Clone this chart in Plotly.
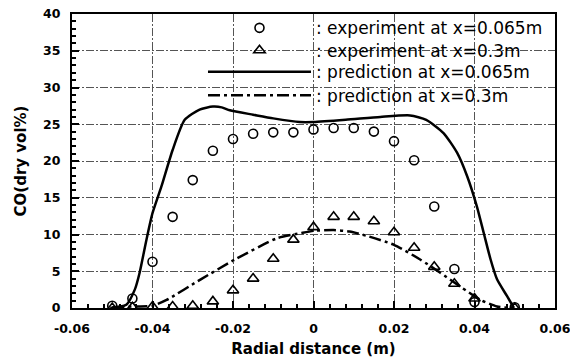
import plotly.graph_objects as go

# ---------------- data ----------------
exp_065_x = [-0.05, -0.045, -0.04, -0.035, -0.03, -0.025, -0.02, -0.015, -0.01, -0.005,
             0.0, 0.005, 0.01, 0.015, 0.02, 0.025, 0.03, 0.035, 0.04, 0.05]
exp_065_y = [0.3, 1.3, 6.3, 12.4, 17.4, 21.4, 23.0, 23.7, 23.9, 23.9,
             24.3, 24.5, 24.5, 24.0, 22.7, 20.1, 13.8, 5.3, 0.8, 0.1]

exp_03_x = [-0.05, -0.045, -0.04, -0.035, -0.03, -0.025, -0.02, -0.015, -0.01, -0.005,
            0.0, 0.005, 0.01, 0.015, 0.02, 0.025, 0.03, 0.035, 0.04, 0.05]
exp_03_y = [0.0, 0.1, 0.2, 0.2, 0.3, 0.9, 2.4, 4.0, 6.7, 9.3,
            11.0, 12.4, 12.4, 11.8, 10.3, 8.2, 5.6, 3.3, 1.3, 0.0]

pred_065_x = [-0.0505, -0.0465, -0.0444, -0.0432, -0.0415, -0.0400, -0.0378, -0.0350,
              -0.0320, -0.0283, -0.0250, -0.0228, -0.0208, -0.0150, -0.0100, -0.0034,
              0.0000, 0.0080, 0.0166, 0.0240, 0.0280, 0.0323, 0.0357, 0.0382, 0.0406,
              0.0423, 0.0440, 0.0456, 0.0481, 0.0498]
pred_065_y = [0.0, 0.45, 2.5, 4.8, 9.3, 12.9, 16.5, 21.5,
              25.6, 27.0, 27.4, 27.3, 26.9, 26.3, 25.8, 25.3,
              25.3, 25.6, 26.0, 26.2, 25.6, 23.8, 21.1, 17.9, 13.8,
              10.2, 6.6, 3.9, 1.6, 0.0]

pred_03_x = [-0.050, -0.045, -0.040, -0.0365, -0.028, -0.0195, -0.009, -0.003, 0.0,
             0.005, 0.009, 0.0133, 0.020, 0.0265, 0.0315, 0.0365, 0.0415, 0.0456, 0.0498]
pred_03_y = [0.1, 0.2, 0.3, 1.1, 3.9, 6.6, 9.5, 10.2, 10.5,
             10.6, 10.4, 9.8, 8.6, 6.6, 4.8, 2.9, 1.1, 0.2, 0.0]

series_names = [": experiment at x=0.065m", ": experiment at x=0.3m",
                ": prediction at x=0.065m", ": prediction at x=0.3m"]

x_tick_vals = [-0.06, -0.04, -0.02, 0.0, 0.02, 0.04, 0.06]
x_tick_text = ["-0.06", "-0.04", "-0.02", "0", "0.02", "0.04", "0.06"]
y_tick_vals = [0, 5, 10, 15, 20, 25, 30, 35, 40]
y_tick_text = ["0", "5", "10", "15", "20", "25", "30", "35", "40"]

x_title = "Radial distance (m)"
y_title = "CO(dry vol%)"

# ---------------- figure ----------------
FONT = "DejaVu Sans"
fig = go.Figure()

fig.add_trace(go.Scatter(x=exp_065_x, y=exp_065_y, mode="markers", name=series_names[0],
                         legend="legend",
                         marker=dict(symbol="circle-open", size=9, color="black",
                                     line=dict(width=1.6, color="black"))))
fig.add_trace(go.Scatter(x=exp_03_x, y=exp_03_y, mode="markers", name=series_names[1],
                         legend="legend2",
                         marker=dict(symbol="triangle-up-open", size=10, color="black",
                                     line=dict(width=1.6, color="black"))))
fig.add_trace(go.Scatter(x=pred_065_x, y=pred_065_y, mode="lines", name=series_names[2],
                         legend="legend3",
                         line=dict(color="black", width=2.5, shape="spline", smoothing=0.6)))
fig.add_trace(go.Scatter(x=pred_03_x, y=pred_03_y, mode="lines", name=series_names[3],
                         legend="legend4",
                         line=dict(color="black", width=2.5, dash="12px,4px,3px,4px",
                                   shape="spline", smoothing=0.6)))

axis_common = dict(
    showline=True, linecolor="black", linewidth=2, mirror=True,
    showgrid=True, gridcolor="#555555", gridwidth=1, griddash="8px,2px,2px,2px",
    ticks="inside", ticklen=7, tickwidth=1.5, tickcolor="black",
    zeroline=False, automargin=False, ticklabeloverflow="allow",
    tickfont=dict(family=FONT, size=12.5, color="black", weight="bold"),
)

fig.update_xaxes(
    range=[-0.06, 0.06], tickmode="array", tickvals=x_tick_vals, ticktext=x_tick_text,
    minor=dict(dtick=0.004, ticks="inside", ticklen=4, tickcolor="black", showgrid=False),
    title=dict(text="<b>" + x_title + "</b>", font=dict(family=FONT, size=15, color="black"),
               standoff=8),
    ticklabelstandoff=8,
    **axis_common,
)
fig.update_yaxes(
    range=[0, 40], tickmode="array", tickvals=y_tick_vals, ticktext=y_tick_text,
    minor=dict(dtick=1, ticks="inside", ticklen=4, tickcolor="black", showgrid=False),
    title=dict(text="<b>" + y_title + "</b>", font=dict(family=FONT, size=15, color="black"),
               standoff=13),
    ticklabelstandoff=7,
    **axis_common,
)

leg_common = dict(
    x=0.2712, xanchor="left", yanchor="middle",
    bgcolor="rgba(0,0,0,0)", borderwidth=0,
    font=dict(family=FONT, size=17, color="black"),
    itemwidth=103,
)

fig.update_layout(
    width=570, height=359, autosize=False,
    margin=dict(l=72, r=15, t=14, b=51, autoexpand=False),
    paper_bgcolor="white", plot_bgcolor="white",
    showlegend=True,
    legend=dict(y=0.9514, **leg_common),
    legend2=dict(y=0.8752, **leg_common),
    legend3=dict(y=0.8017, **leg_common),
    legend4=dict(y=0.7221, **leg_common),
)

fig.write_html("out.html", config={"displayModeBar": False},
               post_script="document.body.style.margin='0';")
